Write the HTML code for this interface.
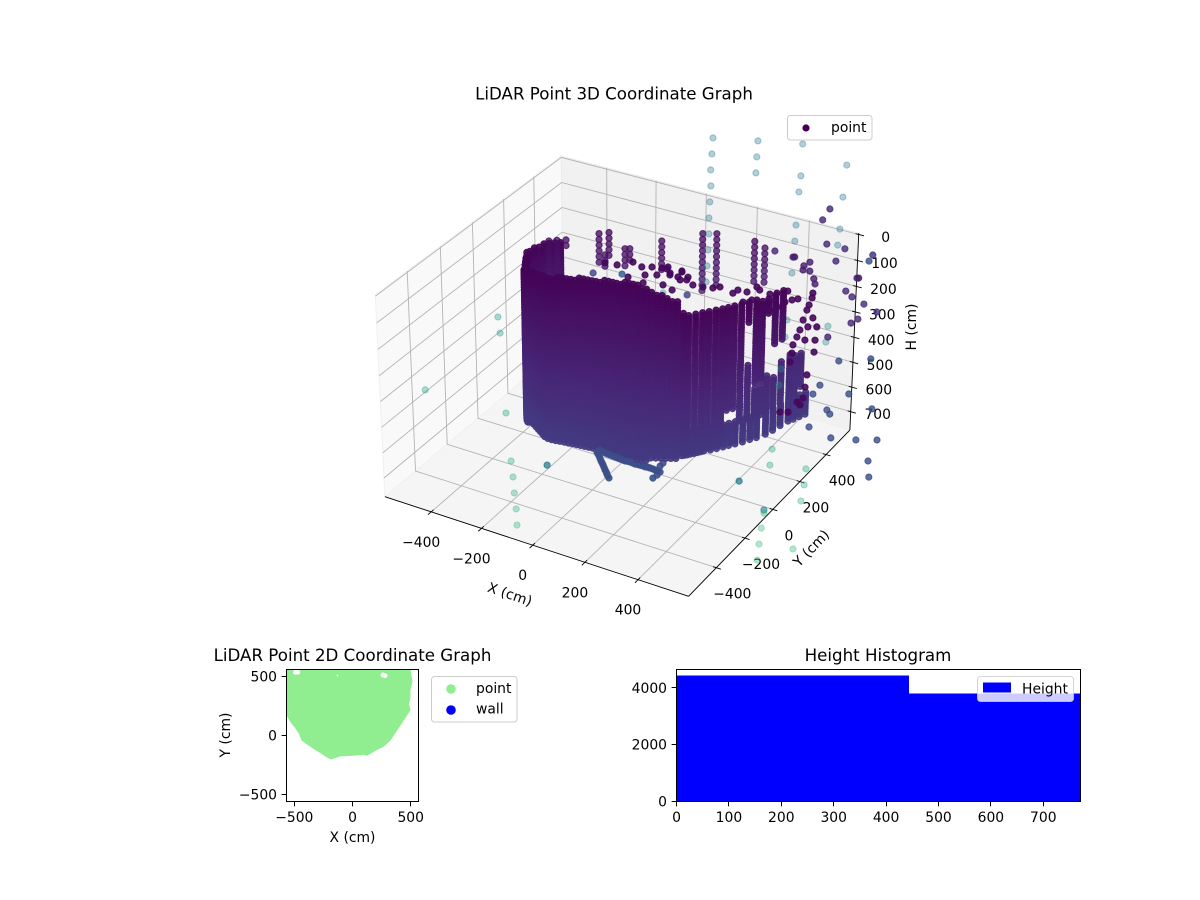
<!DOCTYPE html>
<html lang="en">
<head>
<meta charset="utf-8">
<title>LiDAR Point Graphs</title>
<style>
html,body{margin:0;padding:0;background:#fff;}
svg{display:block;}
text{font-family:"DejaVu Sans","Liberation Sans",sans-serif;font-size:13.9px;fill:#000;}
.title{font-size:16.67px;text-anchor:middle;}
</style>
</head>
<body>
<svg id="fig" xmlns="http://www.w3.org/2000/svg" width="1200" height="900" viewBox="0 0 1200 900">
  <defs>
    <clipPath id="clip2d"><rect x="286.5" y="669.5" width="132" height="132"/></clipPath>
  </defs>
  <rect width="1200" height="900" fill="#fff"/>
  <text class="title" x="614" y="99.5">LiDAR Point 3D Coordinate Graph</text>
  <g id="panes3d"></g>
  <g id="grid3d"></g>
  <g id="axes3d"></g>
  <g id="points3d"></g>
  <text x="510" y="599" text-anchor="middle" transform="rotate(19 510 594)">X (cm)</text>
  <text x="811" y="553" text-anchor="middle" transform="rotate(-46 811 548)">Y (cm)</text>
  <text x="911" y="332" text-anchor="middle" transform="rotate(-90 911 327)">H (cm)</text>
  <g>
    <rect x="787.5" y="115.5" width="84.5" height="24.5" rx="3" fill="#fff" fill-opacity="0.8" stroke="#ccc"/>
    <circle cx="806" cy="128" r="3.6" fill="#440154"/>
    <text x="831" y="132">point</text>
  </g>

  <text class="title" x="352.5" y="661">LiDAR Point 2D Coordinate Graph</text>
  <g id="plot2d" clip-path="url(#clip2d)"></g>
  <rect x="286.5" y="669.5" width="132" height="132" fill="none" stroke="#000" stroke-width="1"/>
  <g id="axes2d"></g>
  <text x="352.5" y="842" text-anchor="middle">X (cm)</text>
  <text x="225" y="740" text-anchor="middle" transform="rotate(-90 225 735)">Y (cm)</text>
  <g>
    <rect x="431.5" y="676.5" width="85.5" height="45.5" rx="3" fill="#fff" fill-opacity="0.8" stroke="#ccc"/>
    <circle cx="451" cy="689" r="4.8" fill="#90ee90"/>
    <text x="476" y="693">point</text>
    <circle cx="451" cy="710" r="4.8" fill="#0000ff"/>
    <text x="476" y="713.5">wall</text>
  </g>

  <text class="title" x="878" y="661">Height Histogram</text>
  <g id="plotHist" shape-rendering="crispEdges"></g>
  <rect x="676.5" y="669.5" width="404" height="132" fill="none" stroke="#000" stroke-width="1"/>
  <g id="axesHist"></g>
  <g>
    <rect x="977.5" y="676.5" width="96" height="25" rx="3" fill="#fff" fill-opacity="0.8" stroke="#ccc" stroke-opacity="0.8"/>
    <rect x="983" y="682.5" width="28" height="10" fill="#0000ff"/>
    <text x="1022" y="693.5">Height</text>
  </g>
</svg>

<script>
// ---------- 3D tick data ----------
const xTicks3d = [-400, -200, 0, 200, 400];
const yTicks3d = [-400, -200, 0, 200, 400];
const hTicks3d = [0, 100, 200, 300, 400, 500, 600, 700];

// ---------- 3D point cloud: heights sampled along each vertical scan column ----------
const wallLevels = [-22,-11,0,11,22,33,44,55,66,77,88,99,110,121,132,143,154,165,176,187,198,209,220,231,242,253,264,275,286,297,308,319,330,341,352,363,374,385,396,407,418,429,440,451,462,473,484,495,506,517,528,539,550,561,572,583,594,605,616,627,638,649,660,671,682,693,704,715,726];
const spikeLevels = [-22,0,22,44,66,88,110,132,154,176,198,220,242,264,286,308,330,352,374,396,418,440,462,484,506,528,550,572,594,616,638,660,682,704,726];

const wallX = [-505,-510,-515,-518,-520,-521,-521,-515,-498,-484,-472,-461,-449,-438,-426,-415,-403,-392,-380,-367,-358,-350,-340,-325,-310,-295,-280,-265,-250,-235,-220,-205,-190,-175,-160,-145,-130,-115,-100,-85,-70,-55,-40,-25,-10,5,20,35,50,65,80,95,110,125,140,155,170,185,200,215,230,245,
  262,275,290,305,320,335,350,362,375,390,405,420,432,442,450,458];
const wallY = [440,410,380,350,320,290,260,230,200,175,155,135,115,95,75,55,35,15,-5,-25,-38,-50,-62,-75,-85,-95,-105,-115,-125,-135,-145,-150,-150,-148,-145,-142,-140,-137,-135,-133,-131,-129,-127,-125,-124,-122,-121,-120,-119,-118,-117,-116,-115,-113,-110,-105,-98,-90,-82,-74,-66,-58,
  -48,-35,-15,5,22,42,60,78,98,120,145,170,190,215,250,290];
const wallTop = [250,240,230,220,210,205,200,195,190,185,175,170,165,165,160,150,140,130,118,108,100,92,84,76,70,62,55,48,40,35,30,28,25,23,21,19,17,15,13,11,9,7,5,3,1,-1,-3,-5,-7,-9,-11,-13,-15,-12,-8,0,6,12,20,28,34,42,
  88,90,92,92,90,92,92,90,92,92,94,95,100,100,105,110];
const wallBottom = [500,500,600,600,650,650,680,700,720,720,725,725,725,725,725,720,715,710,705,700,695,690,682,675,670,665,665,662,662,662,662,662,662,662,662,662,662,662,662,662,662,662,662,662,662,662,662,662,662,662,662,662,662,662,660,660,658,658,656,654,652,650,
  640,640,640,640,630,630,620,500,500,500,180,420,420,170,300,300];

const bandX = [268,282,298,312,328,342,356,368,382,398,412,426,442,452,460,470,480,490,500,405,442,390,420,432,450,458,470,480,490];
const bandY = [-42,-25,-5,14,32,50,70,88,108,132,158,180,215,250,290,330,350,375,400,145,215,120,170,190,250,290,330,350,375];
const bandTop = [540,540,540,540,540,540,540,540,540,540,540,540,540,540,540,540,540,540,540,340,400,480,440,440,420,380,370,380,380];
const bandBottom = [640,640,640,640,640,640,640,640,640,640,640,640,640,640,640,640,640,640,640,560,560,560,560,560,560,560,540,540,520];

const spikeX = [-272,-297,-318,-152,-177,-145,-88,-74,13,127,169,287,320];
const spikeY = [94,76,58,177,153,138,175,183,249,329,352,404,416];
const spikeTop = [3,9,18,-17,-3,47,41,41,18,-5,-3,21,33];
const spikeBottom = [45,157,155,100,114,125,111,103,143,221,200,193,189];

const rimX = [52,98,91,66,120,142,173,203,223,266,278,306,331,342,327,303,375,395,425,461,445,426,421,403,377,350,-53,-97,-23,7,54,99,-55,-7,28,37,65,54,100,85,121,-6,-134,
  500,502,499,497,494,493,490,485,489,491,521,540,546,553,516,514,551,556,559,556,545,503,527];
const rimY = [216,238,223,212,233,236,250,266,279,292,305,318,342,342,314,296,354,367,388,394,382,367,355,339,330,308,168,137,176,193,220,237,138,170,190,209,215,186,222,194,239,155,119,
  428,419,404,393,372,352,337,319,305,289,392,385,363,344,346,370,299,278,259,244,243,200,213];
const rimH = [103,109,127,121,135,150,156,159,156,174,165,171,156,165,194,200,177,174,168,191,194,200,215,224,215,224,83,91,97,97,97,112,127,121,121,100,115,150,135,165,127,144,85,
  174,188,209,224,253,282,303,326,350,376,247,273,312,347,312,273,414,450,482,502,494,523,523];

const legX = [0,5,10,15,20,25,29,34,39,44,48,52,57,8,16,25,33,41,49,57,65,74,82,90,98,106,114,122,130,137,145,154,161,169,178,186,194,202,196,186,197,203];
const legY = [-168,-169,-170,-172,-174,-175,-176,-178,-180,-181,-183,-184,-185,-160,-158,-156,-153,-150,-147,-144,-141,-139,-136,-133,-129,-126,-123,-121,-117,-114,-111,-108,-104,-101,-98,-96,-93,-90,-100,-111,-81,-72];
const legH = [640,646,652,660,667,673,679,686,693,699,705,711,717,635,639,643,646,649,652,655,658,661,664,667,668,670,673,676,677,679,681,684,685,687,690,693,696,699,708,717,682,673];

const outlierX = [78,88,98,112,122,133,146,157,167,178,212,222,233,346,367,375,394,404,422,493,508,526,533,
  572,455,579,447,-403,-383,61,-555,-299,-244,-225,-208,-189,-173,-135,-135,-135,511,518,627,635,639,538,538,541,545,552,560,656,441,441,441,470,478,
  674,749,811,802,818,601,639,651,598,585,690,633,770,725,
  480,468,500,557,644,541,638,354,412,417,451,466,452,473,491,499,617,622,595,618,659,704,637,654,581,-161,-75,133];
const outlierY = [483,458,433,410,385,360,337,312,288,263,555,530,505,626,577,550,497,472,421,670,617,566,539,
  405,317,379,345,-140,-160,174,-369,-265,-326,-346,-367,-387,-409,-271,-271,-271,133,106,161,135,106,31,31,26,0,-27,-53,23,31,31,31,264,237,
  248,288,323,278,256,227,282,281,306,281,342,373,360,430,
  578,550,522,546,584,513,569,424,446,449,452,467,444,454,450,444,524,527,486,488,498,508,449,466,389,85,132,212];
const outlierH = [-282,-235,-188,-141,-94,-47,0,47,94,141,-273,-226,-179,-264,-170,-123,-26,21,115,-202,-108,-14,33,
  271,303,318,253,244,291,174,458,526,667,714,761,808,855,679,679,679,632,679,690,737,784,811,811,820,864,911,958,925,726,726,726,397,444,
  599,605,605,667,714,567,517,529,444,470,470,373,514,367,
  -73,-41,30,44,62,80,80,50,68,68,94,83,106,109,132,147,130,130,168,185,206,229,262,250,303,115,118,179];
const outlierShade = [0.4,0.4,0.4,0.4,0.4,0.4,0.4,0.4,0.4,0.4,0.4,0.4,0.4,0.4,0.4,0.4,0.4,0.4,0.4,0.4,0.4,0.4,0.4,
  0.5,0.5,0.5,0.5,0.52,0.52,0.48,0.55,0.58,0.62,0.63,0.64,0.65,0.66,0.42,0.42,0.42,0.58,0.6,0.6,0.62,0.63,0.42,0.42,0.64,0.65,0.66,0.67,0.66,0.42,0.42,0.42,0.5,0.52,
  0.24,0.24,0.24,0.24,0.24,0.24,0.24,0.24,0.24,0.24,0.24,0.24,0.24,0.24,
  0.12,0.12,0.12,0.14,0.14,0.12,0.24,0.12,0.08,0.08,0.08,0.08,0.08,0.08,0.08,0.08,0.08,0.08,0.12,0.12,0.14,0.14,0.12,0.12,0.1,0.2,0.3,0.2];

// ---------- 2D scatter data ----------
const floorX = [-564,-563,-529,-491,-457,-434,-377,-320,-263,-220,-186,-149,-106,9,94,123,157,209,266,323,380,423,466,494,480,494,494,511,500,494];
const floorY = [564,173,116,68,17,-40,-82,-119,-153,-182,-199,-188,-173,-168,-159,-168,-148,-119,-91,-40,45,108,173,216,273,315,386,457,528,562];
const gapX = [-490,-470,262,280,-130];
const gapY = [537,537,514,508,510];
const xTicks2d = [-500, 0, 500];
const yTicks2d = [-500, 0, 500];

// ---------- Histogram data ----------
const binEdges = [0, 443.5, 771];
const binCounts = [4433, 3800];
const xTicksHist = [0, 100, 200, 300, 400, 500, 600, 700];
const yTicksHist = [0, 2000, 4000];

// ---------- helpers ----------
const NS = 'http://www.w3.org/2000/svg';
function mk(parent, tag, props) {
  const el = document.createElementNS(NS, tag);
  for (const k in props) el.setAttribute(k, props[k]);
  parent.appendChild(el);
  return el;
}
const fmt = v => String(v).replace('-', '\u2212');
const VIR = ['#440154','#482475','#414487','#355f8d','#2a788e','#21918c','#22a884','#44bf70','#7ad151','#bddf26','#fde725'];
function viridis(t) {
  const p = Math.max(0, Math.min(0.9999, t)) * 10, i = Math.floor(p), f = p - i;
  const c = s => [1, 3, 5].map(j => parseInt(s.substr(j, 2), 16));
  const a = c(VIR[i]), b = c(VIR[i + 1]);
  return 'rgb(' + a.map((v, j) => Math.round(v + (b[j] - v) * f)).join(',') + ')';
}
const heightShade = h => 0.01 + Math.max(0, h) / 770 * 0.19;

// ---------- 3D projection ----------
const xLim3 = [-587, 587], yLim3 = [-587, 587], hLim3 = [-5, 775];
const boxA = 0.595, boxC = 0.39, viewDist = 10;
const SX = 2915, SY = 2950, CX = 621.7, CY = 365;
function project(x, y, h) {
  const dx = ((x - xLim3[0]) / (xLim3[1] - xLim3[0]) - 0.5) * 2 * boxA;
  const dy = ((y - yLim3[0]) / (yLim3[1] - yLim3[0]) - 0.5) * 2 * boxA;
  const dz = (0.5 - (h - hLim3[0]) / (hLim3[1] - hLim3[0])) * 2 * boxC;
  const du = 0.8660254 * dx + 0.5 * dy;
  const dv = -0.25 * dx + 0.4330127 * dy + 0.8660254 * dz;
  const dw = 0.4330127 * dx - 0.75 * dy + 0.5 * dz;
  const D = viewDist - dw;
  return [CX + SX * du / D, CY - SY * dv / D, D];
}
const X0 = xLim3[0], X1 = xLim3[1], Y0 = yLim3[0], Y1 = yLim3[1], H0 = hLim3[0], H1 = hLim3[1];
const pts = list => list.map(p => { const q = project(p[0], p[1], p[2]); return q[0].toFixed(1) + ',' + q[1].toFixed(1); }).join(' ');

// panes
const panes = document.getElementById('panes3d');
const paneLeft = mk(panes, 'polygon', {points: pts([[X0,Y0,H0],[X0,Y1,H0],[X0,Y1,H1],[X0,Y0,H1]]), fill: '#f9f9f9', stroke: '#f0f0f0', 'stroke-width': 1});


const paneBack = mk(panes, 'polygon', {points: pts([[X0,Y1,H0],[X1,Y1,H0],[X1,Y1,H1],[X0,Y1,H1]]), fill: '#f1f1f1', stroke: '#ebebeb', 'stroke-width': 1});


const paneFloor = mk(panes, 'polygon', {points: pts([[X0,Y0,H1],[X1,Y0,H1],[X1,Y1,H1],[X0,Y1,H1]]), fill: '#f5f5f5', stroke: '#f0f0f0', 'stroke-width': 1});



// grid lines
const grid = document.getElementById('grid3d');
xTicks3d.forEach(v => {
  const g = mk(grid, 'polyline', {points: pts([[v,Y0,H1],[v,Y1,H1],[v,Y1,H0]]), fill: 'none', stroke: '#b4b4b4', 'stroke-width': 0.9});
  
  
});
yTicks3d.forEach(v => {
  const g = mk(grid, 'polyline', {points: pts([[X1,v,H1],[X0,v,H1],[X0,v,H0]]), fill: 'none', stroke: '#b4b4b4', 'stroke-width': 0.9});
  
  
});
hTicks3d.forEach(v => {
  const g = mk(grid, 'polyline', {points: pts([[X0,Y0,v],[X0,Y1,v],[X1,Y1,v]]), fill: 'none', stroke: '#b4b4b4', 'stroke-width': 0.9});
  
  
});

// axis lines, ticks, labels
const ax3 = document.getElementById('axes3d');
function tickLine(a, b, name) {
  const pa = project(a[0], a[1], a[2]), pb = project(b[0], b[1], b[2]);
  const l = mk(ax3, 'line', {x1: pa[0], y1: pa[1], x2: pb[0], y2: pb[1], stroke: '#000', 'stroke-width': 0.9});
  
  
}
tickLine([X0,Y0,H1], [X1,Y0,H1], 'x-axis-line-3d');
tickLine([X1,Y0,H1], [X1,Y1,H1], 'y-axis-line-3d');
tickLine([X1,Y1,H1], [X1,Y1,H0], 'h-axis-line-3d');
function label3(parent, x, y, txt, name) {
  const t = mk(parent, 'text', {x: x.toFixed(1), y: y.toFixed(1), 'text-anchor': 'middle'});
  t.textContent = txt;
  
  
}
xTicks3d.forEach(v => {
  tickLine([v, Y0 - 20, H1], [v, Y0 + 14, H1], 'x-tick-3d');
  const p = project(v, Y0, H1);
  label3(ax3, p[0] - 10, p[1] + 35, fmt(v), 'x-tick-label-3d');
});
yTicks3d.forEach(v => {
  tickLine([X1 - 12, v, H1], [X1 + 17, v, H1], 'y-tick-3d');
  const p = project(X1, v, H1);
  label3(ax3, p[0] + 16, p[1] + 31, fmt(v), 'y-tick-label-3d');
});
hTicks3d.forEach(v => {
  tickLine([X1 - 12, Y1, v], [X1 + 20, Y1, v], 'h-tick-3d');
  const p = project(X1, Y1, v);
  label3(ax3, p[0] + 27, p[1] + 7.5, fmt(v), 'h-tick-label-3d');
});

// point cloud
const cloud = [];
wallX.forEach((x, i) => {
  const span = 650 - wallTop[i];
  wallLevels.forEach(h => {
    if (h >= wallTop[i] && h <= wallBottom[i]) cloud.push([x, wallY[i], h, 0.01 + 0.16 * (h - wallTop[i]) / span, 0.92]);
  });
});
bandX.forEach((x, i) => {
  wallLevels.forEach(h => {
    if (h >= bandTop[i] && h <= bandBottom[i]) cloud.push([x, bandY[i], h, heightShade(h), 0.9]);
  });
});
spikeX.forEach((x, i) => {
  spikeLevels.forEach(h => {
    if (h >= spikeTop[i] && h <= spikeBottom[i]) cloud.push([x, spikeY[i], h, heightShade(h) + 0.02, 0.78]);
  });
});
rimX.forEach((x, i) => cloud.push([x, rimY[i], rimH[i], 0.02, 0.9]));
legX.forEach((x, i) => cloud.push([x, legY[i], legH[i], heightShade(legH[i]) + 0.06, 0.9]));
outlierX.forEach((x, i) => cloud.push([x, outlierY[i], outlierH[i], outlierShade[i], outlierShade[i] >= 0.35 ? 0.36 : 0.82]));
const drawn = cloud.map(p => { const q = project(p[0], p[1], p[2]); return [q[0], q[1], q[2], p[3], p[4]]; });
drawn.sort((a, b) => b[2] - a[2]);
const pointsGroup = document.getElementById('points3d');
drawn.forEach(d => {
  const col = viridis(d[3]);
  const c = mk(pointsGroup, 'circle', {cx: d[0].toFixed(1), cy: d[1].toFixed(1), r: 3.1, fill: col, 'fill-opacity': d[4], stroke: col, 'stroke-opacity': d[4], 'stroke-width': 1});
  
  
});

// ---------- 2D plot ----------
const xLim2 = [-567, 567], yLim2 = [-561, 561];
const x2 = v => 286.5 + (v - xLim2[0]) / (xLim2[1] - xLim2[0]) * 132;
const y2 = v => 801.5 - (v - yLim2[0]) / (yLim2[1] - yLim2[0]) * 132;
const plot2 = document.getElementById('plot2d');
const floorPoly = mk(plot2, 'polygon', {points: floorX.map((x, i) => x2(x).toFixed(1) + ',' + y2(floorY[i]).toFixed(1)).join(' '), fill: '#90ee90', stroke: '#90ee90', 'stroke-width': 1, 'stroke-linejoin': 'round'});


gapX.forEach((x, i) => {
  const c = mk(plot2, 'circle', {cx: x2(x), cy: y2(gapY[i]), r: i === 4 ? 0.8 : 2.4, fill: '#fff'});
  
  
});
const ax2 = document.getElementById('axes2d');
xTicks2d.forEach(v => {
  const px = Math.round(x2(v) - 0.5) + 0.5;
  const l = mk(ax2, 'line', {x1: px, y1: 801.5, x2: px, y2: 806.4, stroke: '#000', 'stroke-width': 1});
  
  
  const t = mk(ax2, 'text', {x: x2(v), y: 822, 'text-anchor': 'middle'});
  t.textContent = fmt(v);
  
  
});
yTicks2d.forEach(v => {
  const py = Math.round(y2(v) - 0.5) + 0.5;
  const l = mk(ax2, 'line', {x1: 281.6, y1: py, x2: 286.5, y2: py, stroke: '#000', 'stroke-width': 1});
  
  
  const t = mk(ax2, 'text', {x: 277, y: y2(v) + 5, 'text-anchor': 'end'});
  t.textContent = fmt(v);
  
  
});

// ---------- Histogram ----------
const xLimH = [0, 771], yLimH = [0, 4644];
const xh = v => 676.5 + (v - xLimH[0]) / (xLimH[1] - xLimH[0]) * 404;
const yh = v => 801.5 - (v - yLimH[0]) / (yLimH[1] - yLimH[0]) * 132;
const plotH = document.getElementById('plotHist');
binCounts.forEach((n, i) => {
  const r = mk(plotH, 'rect', {x: xh(binEdges[i]), y: yh(n), width: xh(binEdges[i + 1]) - xh(binEdges[i]), height: yh(0) - yh(n), fill: '#0000ff'});
  
  
});
const axH = document.getElementById('axesHist');
xTicksHist.forEach(v => {
  const px = Math.round(xh(v) - 0.5) + 0.5;
  const l = mk(axH, 'line', {x1: px, y1: 801.5, x2: px, y2: 806.4, stroke: '#000', 'stroke-width': 1});
  
  
  const t = mk(axH, 'text', {x: xh(v), y: 822, 'text-anchor': 'middle'});
  t.textContent = fmt(v);
  
  
});
yTicksHist.forEach(v => {
  const py = Math.round(yh(v) - 0.5) + 0.5;
  const l = mk(axH, 'line', {x1: 671.6, y1: py, x2: 676.5, y2: py, stroke: '#000', 'stroke-width': 1});
  
  
  const t = mk(axH, 'text', {x: 667, y: yh(v) + 5, 'text-anchor': 'end'});
  t.textContent = fmt(v);
  
  
});
</script>
</body>
</html>
